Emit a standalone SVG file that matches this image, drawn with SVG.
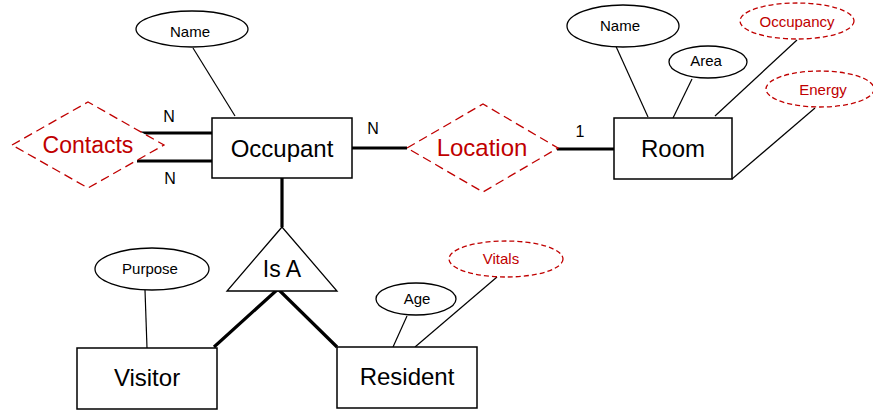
<svg xmlns="http://www.w3.org/2000/svg" width="873" height="410" viewBox="0 0 873 410">
  <style>
    .bg { fill: #ffffff; }
    .ent { fill: #ffffff; stroke: #000000; stroke-width: 1.5; }
    .attr { fill: #ffffff; stroke: #000000; stroke-width: 1.3; }
    .dattr { fill: #ffffff; stroke: #c00000; stroke-width: 1.3; stroke-dasharray: 5 3; }
    .rel { fill: #ffffff; stroke: #c00000; stroke-width: 1.3; stroke-dasharray: 9 5; }
    .isa { fill: #ffffff; stroke: #000000; stroke-width: 1.3; }
    .thin { stroke: #000000; stroke-width: 1.2; fill: none; }
    .thick { stroke: #000000; stroke-width: 3.2; fill: none; }
    text { font-family: "Liberation Sans", Arial, sans-serif; text-anchor: middle; fill: #000000; }
    .big { font-size: 24px; }
    .small { font-size: 15px; }
    .red { fill: #c00000; }
    .card { font-size: 16px; }
  </style>

  <rect class="bg" x="0" y="0" width="873" height="410"/>

  <!-- connectors -->
  <g id="connectors">
    <line class="thin" x1="193" y1="48" x2="235" y2="116"/>
    <line class="thick" x1="140" y1="133" x2="212" y2="133"/>
    <line class="thick" x1="137" y1="161" x2="212" y2="161"/>
    <line class="thick" x1="352" y1="148" x2="407" y2="148"/>
    <line class="thick" x1="557" y1="149" x2="614" y2="149"/>
    <line class="thin" x1="614" y1="42" x2="648" y2="117"/>
    <line class="thin" x1="692" y1="79" x2="673" y2="118"/>
    <line class="thin" x1="797" y1="40" x2="715" y2="116"/>
    <line class="thin" x1="815" y1="108" x2="732" y2="179"/>
    <line class="thick" x1="282" y1="178" x2="282" y2="227"/>
    <polyline class="thick" points="214,347 278,289 337,347"/>
    <line class="thin" x1="145" y1="290" x2="147" y2="348"/>
    <line class="thin" x1="407" y1="316" x2="393" y2="347"/>
    <line class="thin" x1="497" y1="277" x2="415" y2="347"/>
  </g>

  <!-- cardinality labels -->
  <g id="cardinalities">
    <text class="card" x="169" y="122">N</text>
    <text class="card" x="170" y="184">N</text>
    <text class="card" x="373" y="134">N</text>
    <text class="card" x="580" y="137">1</text>
  </g>

  <g id="occupant">
    <rect class="ent" x="212" y="118" width="140" height="60"/>
    <text class="big" x="282" y="157">Occupant</text>
  </g>

  <g id="occupant-name">
    <ellipse class="attr" cx="192" cy="29" rx="56" ry="18"/>
    <text class="small" x="190" y="37">Name</text>
  </g>

  <g id="contacts">
    <polygon class="rel" points="12,145 88,102 164,145 88,188"/>
    <text class="big red" x="88" y="153" style="font-size:23px">Contacts</text>
  </g>

  <g id="location">
    <polygon class="rel" points="407,148 483,104 558,148 483,192"/>
    <text class="big red" x="482" y="156">Location</text>
  </g>

  <g id="room">
    <rect class="ent" x="614" y="118" width="118" height="61"/>
    <text class="big" x="673" y="157">Room</text>
  </g>

  <g id="room-name">
    <ellipse class="attr" cx="623" cy="26" rx="56" ry="21"/>
    <text class="small" x="620" y="31">Name</text>
  </g>

  <g id="room-area">
    <ellipse class="attr" cx="708" cy="62" rx="39" ry="16"/>
    <text class="small" x="706" y="66">Area</text>
  </g>

  <g id="room-occupancy">
    <ellipse class="dattr" cx="797" cy="21" rx="57" ry="18"/>
    <text class="small red" x="797" y="27">Occupancy</text>
  </g>

  <g id="room-energy">
    <ellipse class="dattr" cx="820" cy="89" rx="54" ry="18"/>
    <text class="small red" x="823" y="95">Energy</text>
  </g>

  <g id="isa">
    <polygon class="isa" points="282,227 227,291 337,291"/>
    <text class="big" x="282" y="277" style="font-size:23px">Is A</text>
  </g>

  <g id="visitor">
    <rect class="ent" x="77" y="348" width="140" height="61"/>
    <text class="big" x="147" y="386">Visitor</text>
  </g>

  <g id="visitor-purpose">
    <ellipse class="attr" cx="152" cy="269" rx="57" ry="21"/>
    <text class="small" x="150" y="274">Purpose</text>
  </g>

  <g id="resident">
    <rect class="ent" x="337" y="347" width="140" height="61"/>
    <text class="big" x="407" y="385">Resident</text>
  </g>

  <g id="resident-age">
    <ellipse class="attr" cx="416" cy="299" rx="40" ry="16"/>
    <text class="small" x="417" y="304">Age</text>
  </g>

  <g id="resident-vitals">
    <ellipse class="dattr" cx="506" cy="259" rx="57" ry="18"/>
    <text class="small red" x="501" y="264">Vitals</text>
  </g>
</svg>
